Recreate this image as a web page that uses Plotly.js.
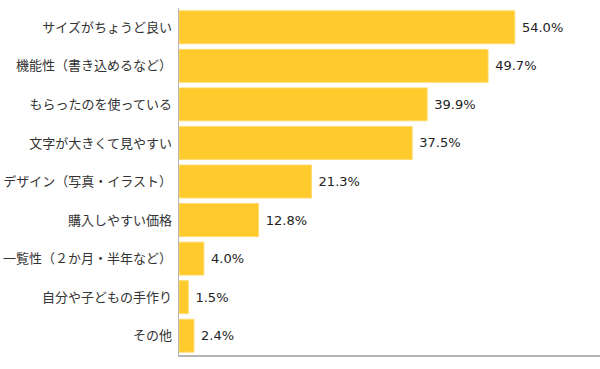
<!DOCTYPE html>
<html>
<head>
<meta charset="utf-8">
<script src="https://cdn.plot.ly/plotly-3.0.1.min.js"></script>
<style>html,body{margin:0;padding:0;background:#fff;}#chart{width:600px;height:369px;}</style>
</head>
<body>
<div id="chart"></div>
<script>
const categories = [
  "サイズがちょうど良い",
  "機能性（書き込めるなど）",
  "もらったのを使っている",
  "文字が大きくて見やすい",
  "デザイン（写真・イラスト）",
  "購入しやすい価格",
  "一覧性（２か月・半年など）",
  "自分や子どもの手作り",
  "その他"
];
const values = [54.0, 49.7, 39.9, 37.5, 21.3, 12.8, 4.0, 1.5, 2.4];
const valueLabels = values.map(v => " " + v.toFixed(1) + "%");

const trace = {
  type: "bar",
  orientation: "h",
  x: values,
  y: categories,
  text: valueLabels,
  textposition: "outside",
  cliponaxis: false,
  textfont: {family: "DejaVu Sans", size: 13, color: "#222"},
  marker: {color: "#FFCA2C", line: {color: "#FFDB70", width: 1}},
  hoverinfo: "none"
};

const layout = {
  width: 600,
  height: 369,
  margin: {l: 179, r: 0, t: 8, b: 14, pad: 0},
  paper_bgcolor: "#fff",
  plot_bgcolor: "#fff",
  showlegend: false,
  bargap: 0.145,
  xaxis: {
    range: [0, 67.7],
    showticklabels: false,
    showgrid: false,
    zeroline: false,
    showline: true,
    linecolor: "#b5b5b5",
    linewidth: 1.5,
    ticks: "",
    fixedrange: true
  },
  yaxis: {
    autorange: "reversed",
    showgrid: false,
    zeroline: false,
    showline: true,
    linecolor: "#b5b5b5",
    linewidth: 1.5,
    ticks: "outside",
    ticklen: 3,
    tickcolor: "rgba(0,0,0,0)",
    tickfont: {family: "Noto Sans CJK JP", size: 13, color: "#333"},
    fixedrange: true
  },
  font: {family: "Noto Sans CJK JP", color: "#333"}
};

Plotly.newPlot("chart", [trace], layout, {displayModeBar: false, staticPlot: true});
</script>
</body>
</html>
